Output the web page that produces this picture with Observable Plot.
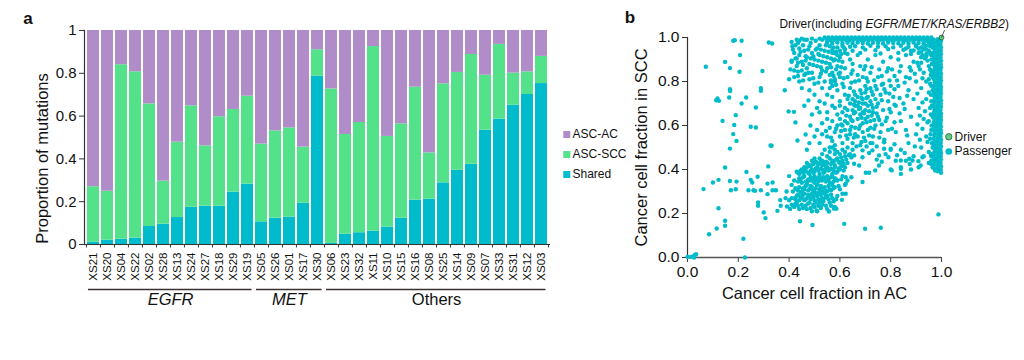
<!DOCTYPE html>
<html><head><meta charset="utf-8">
<script src="https://cdn.jsdelivr.net/npm/d3@7"></script>
<script src="https://cdn.jsdelivr.net/npm/@observablehq/plot@0.6"></script>
<style>
body{margin:0;background:#fff;}
#root{position:relative;width:1024px;height:360px;overflow:hidden;background:#fff;}
#root > div{position:absolute;}
svg{overflow:visible;}
</style></head><body>
<div id="root"><div id="bars" style="left:0;top:0"></div><div id="legendA" style="left:559px;top:120px"></div><div id="scatter" style="left:620px;top:0"></div></div>
<script>
// ---------- Panel a data ----------
const samples = ["XS21","XS20","XS04","XS22","XS02","XS28","XS13","XS24","XS27","XS18","XS29","XS19","XS05","XS26","XS01","XS17","XS30","XS06","XS23","XS32","XS11","XS10","XS15","XS16","XS08","XS25","XS14","XS09","XS07","XS33","XS31","XS12","XS03"];
const sampleGroup = ["EGFR","EGFR","EGFR","EGFR","EGFR","EGFR","EGFR","EGFR","EGFR","EGFR","EGFR","EGFR","MET","MET","MET","MET","MET","Others","Others","Others","Others","Others","Others","Others","Others","Others","Others","Others","Others","Others","Others","Others","Others"];
const groupNames = ["EGFR","MET","Others"];
const groupItalic = [true, true, false];
const shared = [0.011,0.02,0.025,0.03,0.084,0.095,0.126,0.174,0.179,0.179,0.245,0.282,0.106,0.123,0.128,0.193,0.787,0.005,0.048,0.055,0.062,0.081,0.123,0.207,0.212,0.288,0.347,0.375,0.534,0.586,0.651,0.701,0.752];
const ascScc = [0.259,0.229,0.815,0.777,0.573,0.201,0.352,0.474,0.282,0.418,0.386,0.411,0.363,0.408,0.417,0.262,0.123,0.722,0.466,0.515,0.863,0.424,0.441,0.528,0.216,0.463,0.457,0.513,0.257,0.349,0.15,0.106,0.127];
const ascAc = [0.73,0.751,0.16,0.193,0.343,0.704,0.522,0.352,0.539,0.403,0.369,0.307,0.531,0.469,0.455,0.545,0.09,0.273,0.486,0.43,0.075,0.495,0.436,0.265,0.572,0.249,0.196,0.112,0.209,0.065,0.199,0.193,0.121];
const seriesNames = ["ASC-AC","ASC-SCC","Shared"];
const seriesColors = ["#b08cc8","#53e18a","#00bbcb"];
const yTicksA = [0,0.2,0.4,0.6,0.8,1];

// ---------- Panel b data (cancer cell fraction in AC, in SCC) ----------
const passengerSparse = [[.072,.867],[.18,.985],[.186,.988],[.213,.985],[.32,.977],[.333,.973],[.207,.92],[.148,.889],[.167,.861],[.205,.844],[.295,.848],[.167,.765],[.168,.757],[.289,.77],[.289,.758],[.383,.76],[.113,.715],[.118,.723],[.124,.712],[.164,.727],[.231,.727],[.213,.70],[.269,.682],[.19,.647],[.138,.621],[.184,.602],[.249,.594],[.269,.591],[.18,.561],[.193,.53],[.331,.508],[.167,.495],[.148,.409],[.318,.414],[.063,.311],[.10,.341],[.122,.353],[.167,.348],[.193,.345],[.171,.306],[.19,.31],[.232,.389],[.249,.353],[.255,.341],[.276,.367],[.24,.306],[.26,.306],[.266,.303],[.289,.306],[.315,.336],[.335,.341],[.335,.306],[.348,.306],[.315,.288],[.278,.25],[.278,.235],[.30,.205],[.307,.179],[.122,.224],[.148,.167],[.148,.144],[.115,.132],[.085,.106],[.22,.085],[.226,0],[0,.003],[.013,.003],[.024,.006],[.029,.012],[.034,.015],[.026,0],[.365,.261],[.367,.235],[.354,.212],[.386,.27],[.443,.165],[.492,.148],[.617,.153],[.699,.131],[.761,.135],[.988,.196]];
const passengerUpper = [[.41,.98],[.413,.96],[.43,.99],[.44,.985],[.46,.99],[.42,.93],[.43,.905],[.44,.92],[.45,.89],[.46,.94],[.47,.91],[.48,.88],[.49,.93],[.50,.90],[.51,.95],[.52,.92],[.53,.89],[.54,.94],[.55,.91],[.56,.88],[.57,.93],[.58,.90],[.43,.87],[.45,.85],[.47,.86],[.49,.84],[.51,.87],[.53,.85],[.55,.86],[.57,.84],[.59,.87],[.42,.82],[.44,.80],[.46,.83],[.48,.81],[.50,.79],[.52,.82],[.54,.80],[.56,.83],[.58,.81],[.60,.82],[.41,.89],[.61,.89],[.60,.94],[.59,.92],[.62,.93],[.44,.95],[.48,.96],[.52,.965],[.45,.77],[.48,.76],[.50,.74],[.53,.77],[.55,.74],[.57,.78],[.42,.85],[.40,.81],[.405,.855],[.476,.84],[.476,.714],[.398,.664],[.419,.662],[.425,.614],[.484,.60],[.465,.559],[.433,.532],[.327,.509],[.41,.895],[.52,.71],[.51,.68],[.49,.65],[.46,.69],
[.415,.945],[.425,.965],[.435,.975],[.445,.935],[.455,.965],[.465,.915],[.475,.945],[.485,.975],[.495,.915],[.505,.945],[.515,.925],[.525,.945],[.535,.915],[.545,.965],[.555,.935],[.565,.905],[.575,.955],[.585,.935],[.595,.895],[.605,.925],[.615,.955],[.425,.905],[.435,.885],[.455,.875],[.465,.895],[.485,.905],[.495,.875],[.515,.895],[.525,.865],[.545,.885],[.565,.865],[.575,.895],[.585,.855],[.605,.865],[.435,.845],[.465,.835],[.495,.815],[.525,.835],[.545,.845],[.575,.825],[.595,.835],[.455,.805],[.515,.795],[.565,.795],[.435,.825]];
const passengerLowCluster = [[.42,.23],[.44,.22],[.45,.24],[.47,.22],[.48,.25],[.50,.23],[.51,.21],[.53,.24],[.55,.22],[.43,.25],[.46,.26],[.49,.21],[.52,.25],[.56,.25],[.58,.23],[.41,.24],
[.43,.28],[.44,.26],[.46,.29],[.47,.27],[.48,.28],[.50,.26],[.51,.28],[.53,.27],[.54,.29],[.57,.27],[.45,.27],[.49,.29],[.52,.26],[.55,.28],[.42,.27],[.59,.28],[.61,.29],
[.43,.31],[.44,.32],[.45,.30],[.47,.33],[.48,.31],[.50,.30],[.51,.33],[.52,.31],[.54,.32],[.55,.30],[.57,.33],[.46,.31],[.49,.32],[.53,.30],[.56,.31],[.58,.32],[.60,.31],[.62,.33],
[.42,.35],[.44,.36],[.45,.34],[.46,.37],[.48,.35],[.49,.36],[.50,.34],[.52,.37],[.53,.35],[.54,.36],[.56,.34],[.57,.37],[.59,.35],[.47,.34],[.51,.36],[.55,.37],[.58,.36],[.61,.37],[.63,.35],
[.43,.39],[.44,.38],[.45,.40],[.46,.39],[.47,.41],[.48,.38],[.49,.40],[.50,.39],[.51,.41],[.52,.38],[.53,.40],[.54,.39],[.55,.41],[.56,.40],[.57,.38],[.58,.41],[.59,.39],[.60,.40],[.62,.41],[.46,.41],[.50,.37],[.53,.42],[.48,.42],
[.47,.43],[.49,.44],[.51,.43],[.52,.45],[.53,.44],[.54,.42],[.55,.43],[.56,.45],[.57,.44],[.58,.42],[.59,.45],[.60,.43],[.61,.44],[.62,.46],[.63,.43],[.50,.45],[.55,.46],[.58,.47],
[.53,.47],[.56,.48],[.57,.50],[.59,.48],[.60,.47],[.61,.49],[.62,.48],[.63,.50],[.64,.47],[.65,.49],[.58,.49],[.54,.49],
[.392,.232],[.404,.221],[.40,.26],[.39,.30],[.41,.33],[.40,.37],[.415,.30],[.41,.27],[.508,.214],[.557,.209],[.577,.222],[.586,.222],[.608,.262],[.623,.29],[.623,.335],[.645,.365],[.623,.365],[.689,.343],
[.425,.245],[.435,.235],[.455,.225],[.465,.235],[.475,.245],[.485,.225],[.495,.24],[.505,.25],[.515,.235],[.525,.225],[.535,.255],[.545,.235],[.565,.235],[.575,.255],
[.425,.265],[.435,.285],[.445,.275],[.455,.285],[.465,.265],[.475,.285],[.485,.265],[.495,.275],[.505,.285],[.515,.265],[.525,.285],[.535,.265],[.545,.275],[.555,.265],[.565,.285],[.585,.265],
[.425,.315],[.435,.305],[.445,.295],[.455,.315],[.465,.325],[.475,.305],[.485,.325],[.495,.305],[.505,.315],[.515,.295],[.525,.325],[.535,.315],[.545,.305],[.555,.325],[.565,.305],[.575,.315],[.595,.325],
[.435,.345],[.445,.355],[.455,.365],[.465,.345],[.475,.355],[.485,.365],[.495,.345],[.505,.355],[.515,.345],[.525,.355],[.535,.365],[.545,.345],[.555,.355],[.565,.365],[.575,.345],[.585,.355],[.605,.355],
[.435,.385],[.445,.395],[.455,.385],[.465,.395],[.475,.385],[.485,.395],[.495,.385],[.505,.405],[.515,.395],[.525,.405],[.535,.385],[.545,.405],[.555,.395],[.565,.405],[.575,.395],[.585,.385],[.595,.405],[.605,.415],[.615,.395],
[.485,.415],[.495,.425],[.505,.435],[.515,.425],[.525,.435],[.535,.425],[.545,.435],[.565,.425],[.575,.435],[.585,.445],[.595,.435],[.605,.455],[.615,.425],[.625,.445],[.635,.465],[.645,.455]];
const passengerDiagonal = [[.52,.52],[.55,.55],[.57,.53],[.58,.57],[.60,.55],[.61,.52],[.62,.58],[.63,.54],[.59,.60],[.56,.59],[.64,.56],[.65,.52],[.66,.59],[.67,.55],[.68,.51],[.69,.57],[.70,.53],[.71,.58],[.63,.61],[.60,.63],[.57,.62],[.61,.66],[.64,.64],[.65,.62],[.66,.66],[.67,.63],[.68,.65],[.69,.61],[.70,.67],[.71,.64],[.72,.62],[.73,.66],[.62,.68],[.64,.70],[.65,.67],[.66,.71],[.67,.69],[.68,.68],[.69,.72],[.70,.70],[.71,.69],[.72,.71],[.73,.68],[.74,.72],[.66,.74],[.68,.76],[.70,.75],[.72,.77],[.64,.77],[.62,.74],[.60,.71],[.58,.68],[.55,.66],[.75,.70],[.76,.74],[.74,.78],[.71,.80],[.69,.82],[.66,.80],[.63,.82],[.61,.79],[.59,.76],[.57,.73],[.54,.70],[.53,.61],[.51,.58],[.50,.55],[.48,.52],[.47,.49],[.62,.86],[.65,.85],[.68,.87],[.72,.84],[.75,.82],[.77,.79],[.78,.75],[.79,.71],[.77,.67],[.75,.64],[.74,.60],[.76,.57],[.73,.55],[.72,.52],[.78,.62],[.80,.66],[.81,.73],[.80,.78],[.58,.80],[.56,.77],[.52,.66],[.60,.84],[.67,.83],[.70,.78],[.73,.74],[.64,.58],[.66,.56],[.62,.62],[.68,.60],[.70,.63],[.72,.59],[.59,.65],[.57,.69],[.65,.72],[.67,.73],[.69,.66],[.71,.73],[.63,.67],[.61,.60],[.58,.51],[.56,.50],[.53,.56],[.55,.63],[.60,.69],[.63,.72],[.66,.69],[.69,.70],
[.545,.575],[.565,.545],[.585,.585],[.605,.575],[.625,.555],[.645,.595],[.655,.545],[.675,.585],[.695,.545],[.715,.555],[.735,.585],[.755,.545],[.605,.605],[.625,.645],[.645,.625],[.655,.655],[.675,.675],[.685,.635],[.695,.655],[.705,.615],[.715,.665],[.725,.645],[.735,.625],[.745,.655],[.655,.695],[.675,.705],[.685,.725],[.705,.725],[.725,.695],[.745,.685],[.765,.715],[.635,.735],[.655,.755],[.685,.745],[.705,.765],[.725,.755],[.745,.765],[.765,.785],[.615,.775],[.645,.795],[.675,.805],[.705,.815],[.735,.805],[.765,.825],[.785,.845],[.695,.855],[.725,.865],[.755,.855],[.645,.835],[.615,.815],[.585,.785],[.565,.805],[.775,.765],[.795,.805],[.815,.825],[.805,.855],[.835,.845],[.825,.805],[.815,.765],[.795,.745],[.835,.725],[.815,.695],[.795,.675],[.785,.635],[.815,.615],[.805,.585],[.765,.605],[.755,.625],[.835,.655],[.855,.675],[.865,.735],[.855,.795],[.875,.815],[.895,.835],[.875,.865],[.905,.885],[.915,.855],[.925,.815],[.905,.745],[.925,.705],[.935,.665],[.915,.645],[.905,.605],[.925,.585],[.945,.615],[.945,.525],[.915,.535],[.895,.505],[.865,.555],[.855,.475],[.875,.425],[.825,.465],[.815,.515],[.775,.535],[.745,.505],[.715,.475],[.745,.445],[.765,.435],[.705,.505],[.685,.525],[.665,.505]];
const passengerTopBand = [[.54,1],[.555,1],[.57,1],[.585,1],[.60,1],[.615,1],[.63,1],[.645,1],[.66,1],[.675,1],[.69,1],[.705,1],[.72,1],[.735,1],[.75,1],[.765,1],[.78,1],[.795,1],[.81,1],[.825,1],[.84,1],[.855,1],[.87,1],[.885,1],[.90,1],[.915,1],[.93,1],[.945,1],[.96,1],
[.548,.99],[.563,.988],[.578,.99],[.593,.991],[.608,.989],[.623,.99],[.638,.988],[.653,.99],[.668,.991],[.683,.989],[.698,.99],[.713,.988],[.728,.99],[.743,.991],[.758,.989],[.773,.99],[.788,.988],[.803,.99],[.818,.991],[.833,.989],[.848,.99],[.863,.988],[.878,.99],[.893,.991],[.908,.989],[.923,.99],[.938,.988],[.953,.99],
[.55,.976],[.57,.974],[.59,.977],[.61,.973],[.63,.976],[.65,.974],[.67,.977],[.69,.975],[.71,.973],[.73,.976],[.75,.975],[.77,.973],[.79,.977],[.81,.975],[.83,.974],[.85,.976],[.87,.973],[.89,.977],[.91,.975],[.93,.974],[.95,.976],
[.56,.96],[.59,.955],[.61,.962],[.64,.958],[.66,.96],[.69,.955],[.72,.962],[.75,.958],[.78,.96],[.81,.955],[.84,.962],[.87,.958],[.90,.96],[.92,.955],[.94,.962],
[.57,.943],[.62,.947],[.65,.94],[.70,.945],[.74,.942],[.79,.947],[.85,.944],[.89,.941],[.93,.946],[.95,.94],
[.58,.928],[.63,.925],[.68,.93],[.76,.927],[.83,.93],[.88,.925],[.91,.93],[.94,.925],
[.45,.995],[.47,.99],[.49,.995],[.505,.985],[.52,.995],[.53,.99],
[.90,.965],[.93,.95],[.95,.935],[.94,.915],[.96,.90],[.92,.885],[.95,.87],[.96,.845],[.95,.81],[.93,.97],[.96,.975],[.965,.955],[.955,.96],[.945,.985],[.965,.99],
[.86,.95],[.88,.94],[.91,.95],[.92,.935],[.94,.945],[.955,.925],[.945,.895],[.935,.905],[.925,.92],[.965,.93],[.965,.88],[.955,.855],[.965,.82],[.955,.79],[.965,.76],[.95,.75],[.96,.71],[.955,.68],[.965,.64],[.95,.62],[.96,.58],[.955,.54],[.965,.50],[.95,.48],[.96,.46]];
const passengerRightColumn = [[.998,.385],[.997,.40],[.998,.415],[.996,.43],[.998,.445],[.997,.46],[.998,.475],[.996,.49],[.998,.505],[.997,.52],[.998,.535],[.996,.55],[.998,.565],[.997,.58],[.998,.595],[.996,.61],[.998,.625],[.997,.64],[.998,.655],[.996,.67],[.998,.685],[.997,.70],[.998,.715],[.996,.73],[.998,.745],[.997,.76],[.998,.775],[.996,.79],[.998,.805],[.997,.82],[.998,.835],[.996,.85],[.998,.865],[.997,.88],[.998,.895],[.996,.91],[.998,.925],[.997,.94],[.998,.955],[.996,.97],[.998,.985],
[.985,.392],[.984,.407],[.986,.422],[.985,.437],[.983,.452],[.985,.467],[.986,.482],[.984,.497],[.985,.512],[.983,.527],[.985,.542],[.986,.557],[.984,.572],[.985,.587],[.983,.602],[.985,.617],[.986,.632],[.984,.647],[.985,.662],[.983,.677],[.985,.692],[.986,.707],[.984,.722],[.985,.737],[.983,.752],[.985,.767],[.986,.782],[.984,.797],[.985,.812],[.983,.827],[.985,.842],[.986,.857],[.984,.872],[.985,.887],[.983,.902],[.985,.917],[.986,.932],[.984,.947],[.985,.962],[.983,.977],[.985,.992],
[.972,.405],[.971,.42],[.973,.435],[.972,.45],[.97,.465],[.972,.48],[.973,.495],[.971,.51],[.972,.525],[.97,.54],[.972,.555],[.973,.57],[.971,.585],[.972,.60],[.97,.615],[.972,.63],[.973,.645],[.971,.66],[.972,.675],[.97,.69],[.972,.705],[.973,.72],[.971,.735],[.972,.75],[.97,.765],[.972,.78],[.973,.795],[.971,.81],[.972,.825],[.97,.84],[.972,.855],[.973,.87],[.971,.885],[.972,.90],[.97,.915],[.972,.93],[.973,.945],[.971,.96],[.972,.975],[.97,.99],
[.96,.44],[.958,.47],[.962,.52],[.957,.56],[.961,.60],[.958,.65],[.962,.69],[.959,.74],[.96,.78],[.958,.83],[.962,.88],[.96,.92],[.975,.395],[.965,.41]];
const passengerScatterRight = [[.60,.91],[.64,.90],[.67,.92],[.71,.90],[.74,.92],[.77,.89],[.80,.91],[.83,.90],[.86,.92],[.89,.89],[.92,.91],[.65,.88],[.70,.87],[.79,.86],[.84,.87],[.88,.85],[.91,.87],[.93,.84],[.86,.82],[.90,.80],[.83,.78],[.87,.76],[.92,.77],[.94,.80],[.89,.72],[.85,.70],[.91,.68],[.94,.72],[.82,.69],[.88,.64],[.84,.62],[.93,.63],[.86,.58],[.90,.56],[.82,.57],[.94,.55],[.79,.58],[.87,.52],[.92,.50],[.84,.49],[.89,.46],[.93,.46],[.80,.49],[.86,.44],[.91,.41],[.95,.43],[.82,.44],[.78,.47],[.84,.41],[.88,.40],[.80,.40],
[.702,.385],[.715,.385],[.739,.396],[.754,.418],[.774,.494],[.80,.494],[.791,.456],[.804,.396],[.84,.403],[.84,.38],[.84,.441],[.873,.449],[.886,.441],[.909,.438],[.925,.456],[.918,.418],[.958,.426],[.958,.471],[.774,.524],[.728,.52],[.728,.487],[.754,.464],[.689,.487],[.689,.456],[.656,.464],[.656,.426],[.676,.418]];
const driver = [[1,1]];
const xyTicksB = [0,0.2,0.4,0.6,0.8,1];

// ---------- common ----------
const FONT = '"Liberation Sans", Arial, Helvetica, sans-serif';
const INK = "#111";

// ---------- Panel a ----------
const barTable = [];
samples.forEach((s, i) => {
  barTable.push({sample: s, type: "Shared", value: shared[i]});
  barTable.push({sample: s, type: "ASC-SCC", value: ascScc[i]});
  barTable.push({sample: s, type: "ASC-AC", value: ascAc[i]});
});
const W1 = 555, ML1 = 84, MR1 = 5;
const step = (W1 - ML1 - MR1) / samples.length;
const groupTable = groupNames.map((g, k) => {
  const m = samples.filter((s, i) => sampleGroup[i] === g);
  return {group: g, italic: groupItalic[k], first: m[0], last: m[m.length - 1], mid: m[Math.floor((m.length - 1) / 2)], even: m.length % 2 === 0};
});

const chartA = Plot.plot({
  width: W1, height: 320, marginLeft: ML1, marginRight: MR1, marginTop: 30, marginBottom: 76,
  style: {fontFamily: FONT, fontSize: "15px", overflow: "visible", background: "transparent", color: INK},
  x: {domain: samples, paddingInner: 0.14, paddingOuter: 0.07, axis: null},
  y: {domain: [0, 1], axis: null},
  color: {domain: seriesNames, range: seriesColors},
  marks: [
    Plot.barY(barTable, {x: "sample", y: "value", fill: "type"}),
    Plot.ruleY([0], {stroke: "#333", strokeWidth: 1.2}),
    Plot.frame({anchor: "left", stroke: "#333", strokeWidth: 1.2}),
    Plot.axisY({ticks: yTicksA, tickFormat: d => String(d), tickSize: 5, tickPadding: 3, fontSize: 15, label: null, stroke: "#333"}),
    Plot.axisX({tickRotate: -90, tickSize: 0, tickPadding: 8, fontSize: 11.5, label: null}),
    Plot.ruleX(samples, {x: d => d, y1: () => 0, y2: () => -0.016, dx: -step / 2, stroke: "#333"}),
    Plot.ruleX([samples[samples.length - 1]], {x: d => d, y1: () => 0, y2: () => -0.016, dx: step / 2, stroke: "#333"}),
    Plot.ruleY(groupTable, {y: () => -0.21, x1: "first", x2: "last", insetLeft: 1, insetRight: 1.5, stroke: "#3a3030", strokeWidth: 1.6}),
    ...groupTable.map(g => Plot.text([g], {x: "mid", y: () => -0.257, dx: g.even ? step / 2 : 0, text: "group", fontSize: 16.5, fontStyle: g.italic ? "italic" : "normal", fill: INK})),
    Plot.text(["Proportion of mutations"], {frameAnchor: "left", textAnchor: "middle", lineAnchor: "middle", dx: -41.5, dy: 21, rotate: -90, fontSize: 16.5, fill: INK}),
    Plot.text(["a"], {frameAnchor: "top-left", textAnchor: "middle", lineAnchor: "middle", dx: -56.5, dy: -12, fontWeight: "bold", fontSize: 17, fill: INK})
  ]
});
document.getElementById("bars").appendChild(chartA);

const legendA = Plot.plot({
  width: 70, height: 64, margin: 0,
  style: {fontFamily: FONT, fontSize: "12px", overflow: "visible", background: "transparent", color: INK},
  x: {domain: [0, 1], axis: null},
  y: {type: "point", domain: seriesNames, range: [13.7, 53.7], padding: 0, axis: null},
  color: {domain: seriesNames, range: seriesColors},
  marks: [
    Plot.dot(seriesNames, {y: d => d, fill: d => d, symbol: "square", r: 3.95, frameAnchor: "left", dx: 7.3}),
    Plot.text(seriesNames, {y: d => d, text: d => d, frameAnchor: "left", dx: 13, textAnchor: "start", fontSize: 12, fill: INK})
  ]
});
document.getElementById("legendA").appendChild(legendA);

// ---------- Panel b ----------
const passenger = [...passengerSparse, ...passengerUpper, ...passengerLowCluster, ...passengerDiagonal, ...passengerTopBand, ...passengerRightColumn, ...passengerScatterRight];
const TEAL = "#00bcca", GREEN = "#5ccf80";
const chartB = Plot.plot({
  width: 404, height: 320, marginLeft: 67, marginRight: 83, marginTop: 37, marginBottom: 63,
  style: {fontFamily: FONT, fontSize: "15px", overflow: "visible", background: "transparent", color: INK},
  x: {domain: [0, 1], axis: null},
  y: {domain: [0, 1], axis: null},
  marks: [
    Plot.ruleX([0], {stroke: "#333", strokeWidth: 1.2}),
    Plot.ruleY([0], {stroke: "#555", strokeWidth: 1.4}),
    Plot.axisX({ticks: xyTicksB, tickFormat: d3.format(".1f"), tickSize: 5, tickPadding: 3, fontSize: 15.5, label: null, stroke: "#444"}),
    Plot.axisY({ticks: xyTicksB, tickFormat: d3.format(".1f"), tickSize: 5, tickPadding: 3, fontSize: 15.5, label: null, stroke: "#333"}),
    Plot.dot(passenger, {x: d => d[0], y: d => d[1], r: 2.2, fill: TEAL}),
    Plot.dot(driver, {x: d => d[0], y: d => d[1], r: 2.4, fill: GREEN, stroke: "#2a5a38", strokeWidth: 0.8}),
    Plot.link(driver, {x1: d => d[0], y1: d => d[1], x2: d => d[0] + 0.012, y2: d => d[1] + 0.034, stroke: "#333", strokeWidth: 0.8}),
    Plot.text(["Driver(including"], {frameAnchor: "top-left", lineAnchor: "middle", dx: 174.6, dy: -13, textAnchor: "end", fontSize: 11.9, fill: INK}),
    Plot.text(["EGFR/MET/KRAS/ERBB2"], {frameAnchor: "top-left", lineAnchor: "middle", dx: 177.9, dy: -13, textAnchor: "start", fontStyle: "italic", fontSize: 11.9, fill: INK}),
    Plot.text([")"], {frameAnchor: "top-left", lineAnchor: "middle", dx: 317.4, dy: -13, textAnchor: "start", fontSize: 11.9, fill: INK}),
    Plot.dot(["Driver"], {frameAnchor: "right", dx: 7.3, dy: -10.7, r: 3.2, fill: GREEN, stroke: "#2a5a38", strokeWidth: 0.8}),
    Plot.dot(["Passenger"], {frameAnchor: "right", dx: 7.3, dy: 4, r: 3.3, fill: TEAL}),
    Plot.text(["Driver"], {frameAnchor: "right", lineAnchor: "middle", dx: 13, dy: -10.7, textAnchor: "start", fontSize: 12, fill: INK}),
    Plot.text(["Passenger"], {frameAnchor: "right", lineAnchor: "middle", dx: 13, dy: 4, textAnchor: "start", fontSize: 12, fill: INK}),
    Plot.text(["Cancer cell fraction in AC"], {frameAnchor: "bottom", textAnchor: "middle", lineAnchor: "middle", dy: 36, fontSize: 16.5, fill: INK}),
    Plot.text(["Cancer cell fraction in SCC"], {frameAnchor: "left", textAnchor: "middle", lineAnchor: "middle", dx: -46, rotate: -90, fontSize: 16.5, fill: INK}),
    Plot.text(["b"], {frameAnchor: "top-left", textAnchor: "middle", lineAnchor: "middle", dx: -57.5, dy: -19.5, fontWeight: "bold", fontSize: 17, fill: INK})
  ]
});
document.getElementById("scatter").appendChild(chartB);
</script>
</body></html>
